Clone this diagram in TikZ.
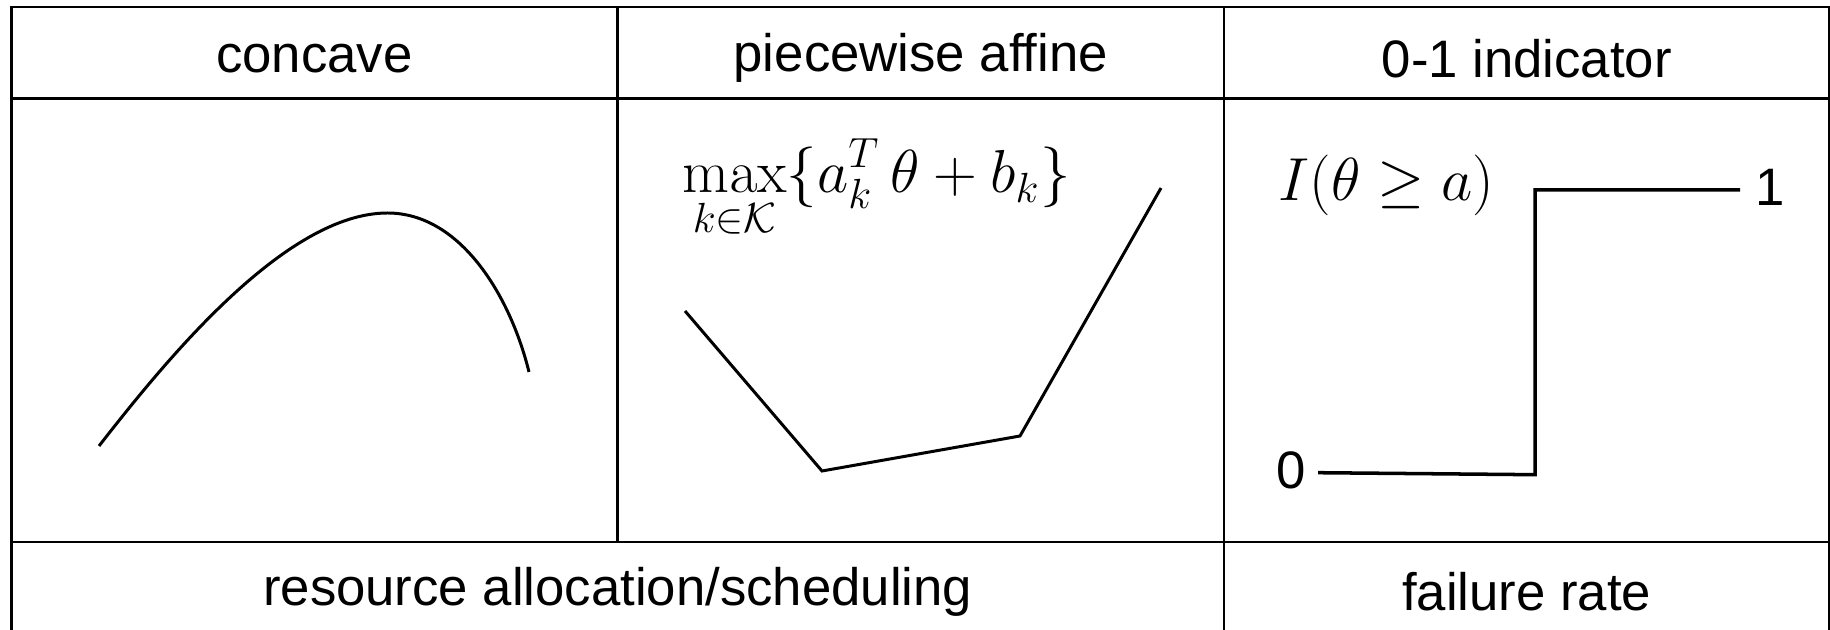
\documentclass[tikz,border=0pt]{standalone}
\usepackage[no-math]{fontspec}
\setmainfont{Liberation Sans}
\usepackage{amsmath,amssymb}
\usetikzlibrary{positioning,calc}
\tikzset{grid/.style={line width=0.6pt},head/.style={font=\fontsize{15}{18}\selectfont,inner sep=0pt},curve/.style={line width=0.85pt,line join=miter},mlabel/.style={font=\fontsize{17}{20}\selectfont,anchor=base west,inner sep=0pt}}

\begin{document}
\begin{tikzpicture}
\useasboundingbox (0,0) rectangle (18.30,-6.30);
% table
\draw[grid] (0.115,-0.07) rectangle (18.295,-6.335);
\draw[grid] (0.115,-0.985) -- (18.295,-0.985);
\draw[grid] (0.115,-5.42) -- (18.295,-5.42);
\draw[grid] (6.175,-0.07) -- (6.175,-5.42);
\draw[grid] (12.24,-0.07) -- (12.24,-6.335);
% headers
\node[head] (h1) at (3.145,-0.583) {concave};
\node[head] (h2) at (9.2075,-0.583) {piecewise affine};
\node[head] (h3) at (15.2675,-0.583) {0-1 indicator};
\node[head] (f1) at (6.1775,-5.92) {resource allocation/scheduling};
\node[head] (f2) at (15.2675,-5.92) {failure rate};
% concave
\draw[curve] (0.99,-4.46) .. controls (1.69,-3.56) and (2.87,-2.13) .. (3.875,-2.13)
  .. controls (4.6,-2.13) and (5.1,-2.95) .. (5.29,-3.72);
% piecewise affine
\node[mlabel,font=\fontsize{17.5}{20}\selectfont] (m2) at (6.82,-1.93) {$\displaystyle\max_{k\in\mathcal{K}}\{a_k^T\,\theta+b_k\}$};
\draw[curve] (6.85,-3.11) -- (8.22,-4.71) -- (10.20,-4.36) -- (11.61,-1.88);
% indicator
\node[mlabel] (m3) at (12.78,-2.005) {$I(\theta\geq a)$};
\node[head] (v0) at (12.91,-4.705) {0};
\node[head] (v1) at (17.70,-1.87) {1};
\draw[curve,line width=1pt] (13.18,-4.727) -- (15.35,-4.747) -- (15.35,-1.90) -- (17.40,-1.90);
\end{tikzpicture}
\end{document}
